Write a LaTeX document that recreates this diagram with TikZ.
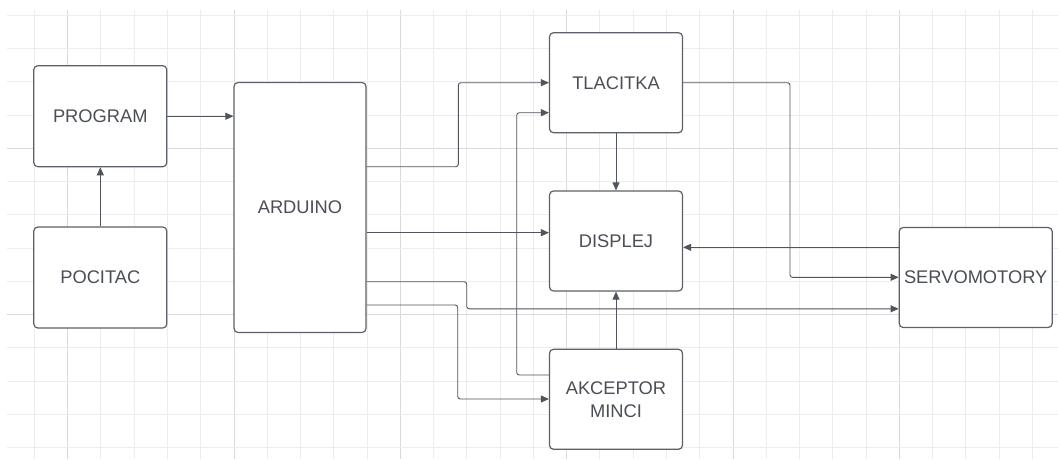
\documentclass[tikz,border=0pt]{standalone}
\usepackage{fontspec}
\setmainfont{Liberation Sans}
\usetikzlibrary{arrows.meta,calc}
\definecolor{gridlight}{HTML}{EDEDED}
\definecolor{griddark}{HTML}{DADADA}
\definecolor{boxline}{HTML}{5C6068}
\definecolor{connline}{HTML}{50545C}
\definecolor{txt}{HTML}{4A4E56}
\tikzset{
  blk/.style={draw=boxline, line width=1.2pt, rounded corners=4pt, fill=white,
    text=txt, font=\fontsize{18.3}{22}\selectfont, align=center, inner sep=0pt},
  conn/.style={draw=connline, line width=0.9pt, rounded corners=2.5pt,
    -{Triangle[length=8pt,width=7pt]}},
}
\begin{document}
\begin{tikzpicture}[x=1pt,y=-1pt]
\fill[white] (0,0) rectangle (1058,459);
\useasboundingbox (0,0) rectangle (1058,459);
% grid
\foreach \k in {0,...,30} {
  \pgfmathsetmacro{\xx}{34.4+\k*33.27}
  \pgfmathtruncatemacro{\m}{mod(\k+4,5)}
  \ifnum\m=0
    \draw[griddark, line width=1pt] (\xx,10) -- (\xx,459);
  \else
    \draw[gridlight, line width=1pt] (\xx,10) -- (\xx,459);
  \fi
}
\foreach \k in {0,...,13} {
  \pgfmathsetmacro{\yy}{15.2+\k*33.27}
  \pgfmathtruncatemacro{\m}{mod(\k+1,5)}
  \ifnum\m=0
    \draw[griddark, line width=1pt] (7,\yy) -- (1058,\yy);
  \else
    \draw[gridlight, line width=1pt] (7,\yy) -- (1058,\yy);
  \fi
}
% nodes
\node[blk, minimum width=133pt, minimum height=101pt] (program) at (100.3,116.2) {PROGRAM};
\node[blk, minimum width=133pt, minimum height=101pt] (pocitac) at (100.3,277.5) {POCITAC};
\node[blk, minimum width=132pt, minimum height=250pt] (arduino) at (300,207.5) {ARDUINO};
\node[blk, minimum width=133pt, minimum height=100pt] (tlacitka) at (616,82.7) {TLACITKA};
\node[blk, minimum width=133pt, minimum height=100pt] (displej) at (616,241) {DISPLEJ};
\node[blk, minimum width=133pt, minimum height=100pt] (akceptor) at (616,399.3) {AKCEPTOR\\[1pt]MINCI};
\node[blk, minimum width=153pt, minimum height=100pt] (servo) at (975.7,277.5) {SERVOMOTORY};
% connectors
\draw[conn] (pocitac.north) -- (program.south);
\draw[conn] (program.east) -- (program.east -| arduino.west);
\draw[conn] (arduino.east |- 0,166.7) -- (458.3,166.7) |- (tlacitka.west);
\draw[conn] (akceptor.west |- 0,375) -| (516.7,112.7) -- (tlacitka.west |- 0,112.7);
\draw[conn] (tlacitka.south) -- (displej.north);
\draw[conn] (arduino.east |- 0,232.7) -- (displej.west |- 0,232.7);
\draw[conn] (arduino.east |- 0,281.7) -| (466.7,308.8) -- (servo.west |- 0,308.8);
\draw[conn] (arduino.east |- 0,305) -| (457.7,399) -- (akceptor.west |- 0,399);
\draw[conn] (akceptor.north) -- (displej.south);
\draw[conn] (tlacitka.east) -| (790,277.3) -- (servo.west |- 0,277.3);
\draw[conn] (servo.west |- 0,247.3) -- (displej.east |- 0,247.3);
\end{tikzpicture}
\end{document}
